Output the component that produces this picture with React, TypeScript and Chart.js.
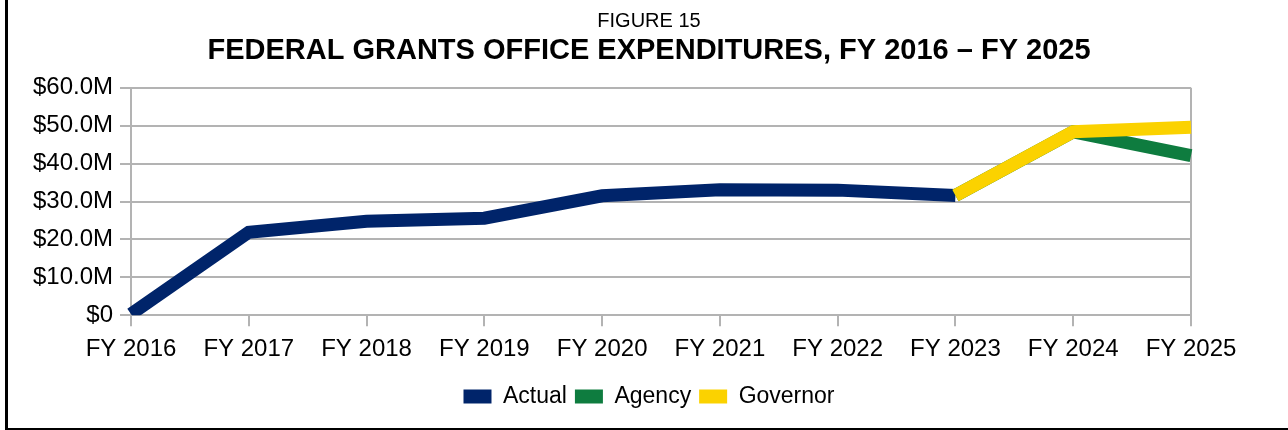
import React, { useEffect, useRef } from "react";
import { Chart, registerables } from "chart.js";

Chart.register(...registerables);

const categories = ["FY 2016", "FY 2017", "FY 2018", "FY 2019", "FY 2020", "FY 2021", "FY 2022", "FY 2023", "FY 2024", "FY 2025"];
const actual = [0.3, 21.9, 24.8, 25.6, 31.5, 33.1, 33.0, 31.6, null, null];
const agency = [null, null, null, null, null, null, null, 31.6, 48.4, 42.1];
const governor = [null, null, null, null, null, null, null, 31.6, 48.4, 49.6];

const FONT = "'Liberation Sans', Arial, sans-serif";
const GRID = "#b3b3b3";

export default function App() {
  const ref = useRef<HTMLCanvasElement>(null);
  useEffect(() => {
    if (!ref.current) return;
    const last = categories.length - 1;
    const chart = new Chart(ref.current, {
      type: "line",
      data: {
        labels: categories,
        datasets: [
          { label: "Actual", data: actual, borderColor: "#00246a", backgroundColor: "#00246a", borderWidth: 13, pointRadius: 0, order: 2 },
          { label: "Agency", data: agency, borderColor: "#0e7c3f", backgroundColor: "#0e7c3f", borderWidth: 13, pointRadius: 0, order: 1 },
          { label: "Governor", data: governor, borderColor: "#fbd200", backgroundColor: "#fbd200", borderWidth: 13, pointRadius: 0, order: 0 },
        ],
      },
      options: {
        responsive: false,
        animation: false,
        layout: { padding: { left: 31, right: 21, top: 0, bottom: 12 } },
        plugins: {
          title: { display: true, text: "FIGURE 15", color: "#000", font: { family: FONT, size: 20, weight: "normal" }, padding: { top: 9, bottom: 0 } },
          subtitle: { display: true, text: "FEDERAL GRANTS OFFICE EXPENDITURES, FY 2016 – FY 2025", color: "#000", font: { family: FONT, size: 29, weight: "bold" }, padding: { top: 1, bottom: 19 } },
          legend: {
            position: "bottom",
            labels: {
              color: "#000",
              font: { family: FONT, size: 23 },
              boxWidth: 28,
              boxHeight: 14,
              padding: 8,
              sort: (a: any, b: any) => a.datasetIndex - b.datasetIndex,
              generateLabels: (c: any) =>
                Chart.defaults.plugins.legend.labels.generateLabels(c).map((it: any) => ({ ...it, lineWidth: 0 })),
            },
          },
          tooltip: { enabled: false },
        },
        scales: {
          x: {
            offset: false,
            grid: {
              color: (c: any) => (c.index === 0 || c.index === last ? GRID : "rgba(0,0,0,0)"),
              tickColor: GRID,
              tickLength: 11,
              lineWidth: 2,
            },
            border: { display: false },
            ticks: { color: "#000", font: { family: FONT, size: 24 }, padding: 9, maxRotation: 0, autoSkip: false },
            title: { display: true, text: " ", font: { size: 1 }, padding: 1.4 },
          },
          y: {
            min: 0,
            max: 60,
            afterFit: (s: any) => {
              s.width = 100;
            },
            grid: { color: GRID, tickColor: GRID, tickLength: 11, lineWidth: 2 },
            border: { display: true, color: GRID, width: 2 },
            ticks: {
              stepSize: 10,
              color: "#000",
              font: { family: FONT, size: 24 },
              padding: 7,
              callback: (v: any) => (Number(v) === 0 ? "$0" : "$" + Number(v).toFixed(1) + "M"),
            },
          },
          y2: {
            position: "right",
            min: 0,
            max: 60,
            afterFit: (s: any) => {
              s.width = 76;
            },
            grid: { display: false },
            border: { display: false },
            ticks: { display: false },
          },
        },
      },
    });
    return () => chart.destroy();
  }, []);

  return (
    <div style={{ position: "fixed", left: 0, top: 0, width: 1288, height: 430, background: "#fff" }}>
      <canvas ref={ref} width={1288} height={430} style={{ position: "absolute", left: 0, top: 0 }} />
      <div style={{ position: "absolute", left: 5, top: 0, width: 3, height: 430, background: "#000" }} />
      <div style={{ position: "absolute", left: 5, top: 428, width: 1283, height: 2, background: "#000" }} />
    </div>
  );
}
